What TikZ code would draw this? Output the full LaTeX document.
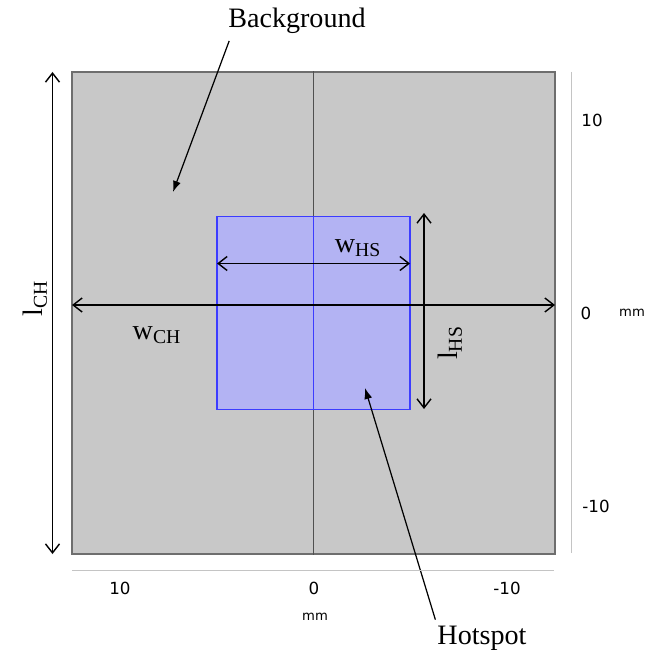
\documentclass[tikz,border=0pt]{standalone}
\usepackage{fontspec}
\usepackage{xcolor}
\usepackage{tikz}
\usetikzlibrary{arrows.meta,positioning,calc}
\setmainfont{Liberation Serif}
\newfontfamily\axisfont{DejaVu Sans}
\definecolor{chGray}{HTML}{C8C8C8}
\definecolor{chEdge}{HTML}{6E6E6E}
\definecolor{midLine}{HTML}{505050}
\definecolor{hsFill}{HTML}{B3B3F3}
\definecolor{hsEdge}{HTML}{3C3CFF}
\definecolor{axisGray}{HTML}{C4C4C4}

\begin{document}
\begin{tikzpicture}[x=0.02cm, y=-0.02cm,
  chbox/.style={rectangle, draw=chEdge, fill=chGray, line width=0.8pt, inner sep=0pt, minimum width=9.66cm, minimum height=9.64cm},
  hsbox/.style={rectangle, draw=hsEdge, fill=hsFill, line width=0.7pt, inner sep=0pt, minimum width=3.86cm, minimum height=3.86cm},
  dim/.style={{Straight Barb[length=1.8mm,width=2.8mm]}-{Straight Barb[length=1.8mm,width=2.8mm]}, line width=0.8pt, draw=black},
  lead/.style={-{Latex[length=2.2mm,width=1.6mm]}, line width=0.7pt, draw=black},
  axisline/.style={draw=axisGray, line width=0.8pt},
  lbl/.style={font=\fontsize{16}{19}\selectfont, inner sep=1pt},
  tick/.style={font=\axisfont\fontsize{9.5}{11}\selectfont, inner sep=1pt},
  unit/.style={font=\axisfont\fontsize{7.5}{9}\selectfont, inner sep=1pt}
]
\useasboundingbox (0,0) rectangle (655,655);
% channel and hotspot
\node[chbox] (ch) at (313.5,313) {};
\draw[midLine, line width=0.7pt] (ch.north) -- (ch.south);
\node[hsbox] (hs) at (313.5,313) {};
\draw[hsEdge, line width=0.7pt] (hs.north) -- (hs.south);
% dimension arrows
\coordinate (wchL) at (72,305);
\coordinate (wchR) at (555,305);
\coordinate (lchT) at (52.5,72);
\coordinate (lchB) at (52.5,554);
\coordinate (whsL) at (217,263.5);
\coordinate (whsR) at (410,263.5);
\coordinate (lhsT) at (424,213);
\coordinate (lhsB) at (424,409);
\draw[dim] (wchL) -- (wchR);
\draw[dim] (lchT) -- (lchB);
\draw[dim] (whsL) -- (whsR);
\draw[dim] (lhsT) -- (lhsB);
\node[lbl] (wch) at (157,335) {w\textsubscript{CH}};
\node[lbl, rotate=90] (lch) at (35,298) {l\textsubscript{CH}};
\node[lbl] (whs) at (358,248) {w\textsubscript{HS}};
\node[lbl, rotate=90] (lhs) at (450,343) {l\textsubscript{HS}};
% callouts
\node[lbl] (bg) at (297,21) {Background};
\node[lbl] (hot) at (482,638) {Hotspot};
\coordinate (bgTip) at (173,192);
\coordinate (hotTip) at (365,388);
\draw[lead] (bg.south west) ++(3,5) coordinate (bgStart) -- (bgTip);
\draw[lead] (hot.north west) ++(0,-4) coordinate (hotStart) -- (hotTip);
% axes
\coordinate (axRT) at (571.5,72);
\coordinate (axRB) at (571.5,553);
\coordinate (axBL) at (72,570.5);
\coordinate (axBR) at (554,570.5);
\draw[axisline] (axRT) -- (axRB);
\draw[axisline] (axBL) -- (axBR);
\node[tick] (r10) at (592,120) {10};
\node[tick] (r0) at (586,313) {0};
\node[tick] (rm10) at (596,506) {-10};
\node[unit] (rmm) at (632,313) {mm};
\node[tick] (b10) at (120,588) {10};
\node[tick] (b0) at (314,588) {0};
\node[tick] (bm10) at (507,588) {-10};
\node[unit] (bmm) at (315,617) {mm};
\end{tikzpicture}
\end{document}
